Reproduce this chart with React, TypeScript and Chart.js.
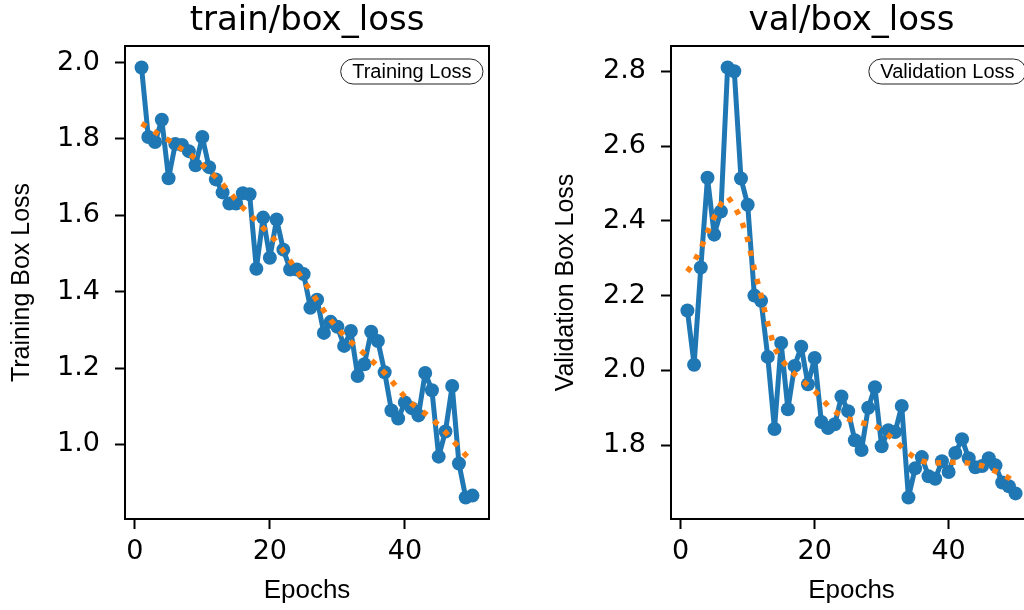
import React, { useEffect, useRef } from "react";
import { Chart, registerables } from "chart.js";
Chart.register(...registerables);

const epochs = [1, 2, 3, 4, 5, 6, 7, 8, 9, 10, 11, 12, 13, 14, 15, 16, 17, 18, 19, 20, 21, 22, 23, 24, 25, 26, 27, 28, 29, 30, 31, 32, 33, 34, 35, 36, 37, 38, 39, 40, 41, 42, 43, 44, 45, 46, 47, 48, 49, 50];

const trainLoss = [1.987, 1.805, 1.792, 1.85, 1.697, 1.787, 1.784, 1.768, 1.731, 1.805, 1.726, 1.694, 1.66, 1.631, 1.631, 1.658, 1.655, 1.46, 1.594, 1.489, 1.589, 1.51, 1.458, 1.458, 1.446, 1.358, 1.379, 1.292, 1.321, 1.308, 1.258, 1.297, 1.179, 1.21, 1.295, 1.271, 1.189, 1.089, 1.068, 1.11, 1.095, 1.076, 1.187, 1.142, 0.968, 1.034, 1.153, 0.95, 0.861, 0.866];

const trainTrend = [1.84, 1.83, 1.818, 1.806, 1.797, 1.785, 1.773, 1.762, 1.748, 1.732, 1.716, 1.7, 1.681, 1.661, 1.64, 1.62, 1.602, 1.585, 1.567, 1.55, 1.53, 1.506, 1.481, 1.455, 1.429, 1.402, 1.376, 1.35, 1.326, 1.304, 1.285, 1.268, 1.253, 1.237, 1.221, 1.204, 1.187, 1.167, 1.145, 1.124, 1.107, 1.093, 1.081, 1.067, 1.05, 1.032, 1.012, 0.992, 0.972, 0.955];

const valLoss = [2.16, 2.015, 2.275, 2.515, 2.363, 2.425, 2.81, 2.8, 2.513, 2.443, 2.2, 2.186, 2.036, 1.843, 2.073, 1.896, 2.012, 2.063, 1.963, 2.033, 1.862, 1.846, 1.856, 1.93, 1.891, 1.813, 1.787, 1.9, 1.955, 1.797, 1.84, 1.835, 1.905, 1.66, 1.738, 1.768, 1.717, 1.71, 1.757, 1.728, 1.779, 1.816, 1.765, 1.741, 1.744, 1.765, 1.746, 1.7, 1.69, 1.671];

const valTrend = [2.264, 2.29, 2.325, 2.37, 2.41, 2.445, 2.465, 2.44, 2.405, 2.35, 2.27, 2.2, 2.125, 2.06, 2.03, 2.008, 1.99, 1.975, 1.96, 1.945, 1.925, 1.905, 1.89, 1.878, 1.87, 1.865, 1.86, 1.856, 1.852, 1.84, 1.827, 1.812, 1.795, 1.779, 1.766, 1.758, 1.753, 1.752, 1.753, 1.754, 1.754, 1.754, 1.752, 1.748, 1.745, 1.738, 1.73, 1.722, 1.712, 1.7];

const xTicks = [0, 20, 40];
const trainYTicks = [1.0, 1.2, 1.4, 1.6, 1.8, 2.0];
const valYTicks = [1.8, 2.0, 2.2, 2.4, 2.6, 2.8];

const BLUE = "#1f77b4";
const ORANGE = "#ff7f0e";

function autoRange(values: number[], margin = 0.05): [number, number] {
  const lo = Math.min(...values);
  const hi = Math.max(...values);
  const r = hi - lo;
  return [lo - r * margin, hi + r * margin];
}

const panelPlugin = {
  id: "panel",
  afterDraw(chart: any, _args: any, o: any) {
    const { ctx, chartArea: a } = chart;
    ctx.save();
    ctx.strokeStyle = "#000";
    ctx.lineWidth = 2;
    ctx.strokeRect(a.left, a.top, a.right - a.left, a.bottom - a.top);

    ctx.fillStyle = "#000";
    ctx.font = '34px "DejaVu Sans"';
    ctx.textAlign = "center";
    ctx.textBaseline = "alphabetic";
    ctx.fillText(o.title, (a.left + a.right) / 2, 30);

    ctx.font = '20px "Liberation Sans", Arial, sans-serif';
    const tw = ctx.measureText(o.legend).width;
    const padX = 11.5;
    const h = 25;
    const right = a.right - 6;
    const left = right - tw - 2 * padX;
    const top = a.top + 13;
    ctx.beginPath();
    ctx.roundRect(left, top, right - left, h, 12.5);
    ctx.fillStyle = "rgba(255,255,255,0.85)";
    ctx.fill();
    ctx.lineWidth = 1;
    ctx.strokeStyle = "#222";
    ctx.stroke();
    ctx.fillStyle = "#000";
    ctx.textAlign = "left";
    ctx.textBaseline = "middle";
    ctx.fillText(o.legend, left + padX, top + h / 2 + 1);
    ctx.restore();
  },
};

type PanelProps = {
  left: number;
  width: number;
  yAxisWidth: number;
  rightPad: number;
  yTitlePad: number;
  title: string;
  legend: string;
  yLabel: string;
  values: number[];
  trend: number[];
  yTicks: number[];
};

function Panel(p: PanelProps) {
  const ref = useRef<HTMLCanvasElement | null>(null);
  useEffect(() => {
    if (!ref.current) return;
    const [yMin, yMax] = autoRange(p.values);
    const [xMin, xMax] = autoRange(epochs);
    const chart = new Chart(ref.current, {
      type: "line",
      data: {
        datasets: [
          {
            label: p.legend + " trend",
            data: epochs.map((e, i) => ({ x: e, y: p.trend[i] })),
            borderColor: ORANGE,
            borderWidth: 5.5,
            borderDash: [5.5, 9],
            borderCapStyle: "butt",
            pointRadius: 0,
            tension: 0,
            fill: false,
            order: 1,
          },
          {
            label: p.legend,
            data: epochs.map((e, i) => ({ x: e, y: p.values[i] })),
            borderColor: BLUE,
            backgroundColor: BLUE,
            borderWidth: 5,
            borderJoinStyle: "round",
            borderCapStyle: "round",
            pointRadius: 7,
            pointBorderWidth: 0,
            pointBackgroundColor: BLUE,
            tension: 0,
            fill: false,
            order: 2,
          },
        ],
      },
      options: {
        animation: false,
        responsive: false,
        devicePixelRatio: 1,
        layout: { padding: { top: 46, right: p.rightPad, left: 0, bottom: 0 } },
        plugins: {
          legend: { display: false },
          title: { display: false },
          tooltip: { enabled: false },
          panel: { title: p.title, legend: p.legend },
        } as any,
        scales: {
          x: {
            type: "linear",
            min: xMin,
            max: xMax,
            afterBuildTicks: (s: any) => {
              s.ticks = xTicks.map((v) => ({ value: v }));
            },
            afterFit: (s: any) => {
              s.height = 91;
            },
            ticks: {
              font: { family: "DejaVu Sans", size: 27 },
              color: "#000",
              padding: 7,
              maxRotation: 0,
              autoSkip: false,
              callback: (v: any) => String(v),
            },
            grid: {
              display: true,
              drawOnChartArea: false,
              drawTicks: true,
              tickLength: 10,
              tickWidth: 2,
              tickColor: "#000",
            },
            border: { display: false },
            title: {
              display: true,
              text: "Epochs",
              color: "#000",
              font: { family: "Liberation Sans", size: 26 },
              padding: { top: 0, bottom: 4 },
            },
          },
          y: {
            type: "linear",
            min: yMin,
            max: yMax,
            afterBuildTicks: (s: any) => {
              s.ticks = p.yTicks.map((v) => ({ value: v }));
            },
            afterFit: (s: any) => {
              s.width = p.yAxisWidth;
            },
            ticks: {
              font: { family: "DejaVu Sans", size: 27 },
              color: "#000",
              padding: 15,
              autoSkip: false,
              callback: (v: any) => Number(v).toFixed(1),
            },
            grid: {
              display: true,
              drawOnChartArea: false,
              drawTicks: true,
              tickLength: 10,
              tickWidth: 2,
              tickColor: "#000",
            },
            border: { display: false },
            title: {
              display: true,
              text: p.yLabel,
              color: "#000",
              font: { family: "Liberation Sans", size: 25 },
              padding: { top: p.yTitlePad, bottom: 0 },
            },
          },
        },
      },
      plugins: [panelPlugin as any],
    });
    return () => chart.destroy();
  }, []);
  return (
    <canvas
      ref={ref}
      width={p.width}
      height={610}
      style={{ position: "absolute", left: p.left, top: 0, width: p.width, height: 610 }}
    />
  );
}

export default function App() {
  return (
    <div
      style={{
        position: "fixed",
        left: 0,
        top: 0,
        width: 1024,
        height: 610,
        overflow: "hidden",
        background: "#fff",
      }}
    >
      <Panel
        left={0}
        width={520}
        yAxisWidth={125}
        rightPad={31}
        yTitlePad={7}
        title="train/box_loss"
        legend="Training Loss"
        yLabel="Training Box Loss"
        values={trainLoss}
        trend={trainTrend}
        yTicks={trainYTicks}
      />
      <Panel
        left={520}
        width={540}
        yAxisWidth={151}
        rightPad={28}
        yTitlePad={31}
        title="val/box_loss"
        legend="Validation Loss"
        yLabel="Validation Box Loss"
        values={valLoss}
        trend={valTrend}
        yTicks={valYTicks}
      />
    </div>
  );
}
